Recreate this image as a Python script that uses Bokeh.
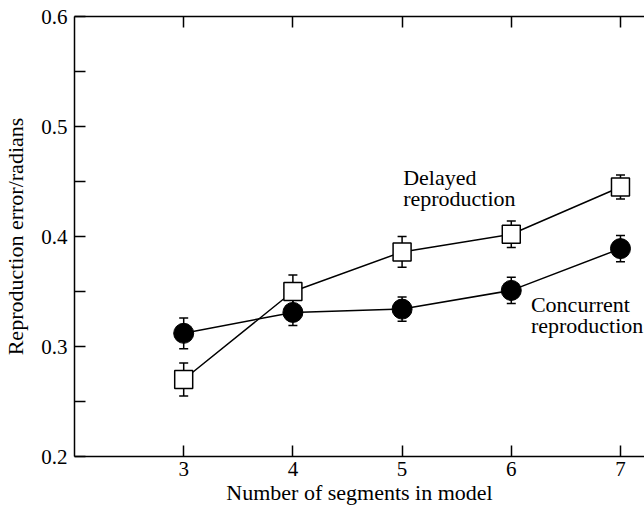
from bokeh.plotting import figure
from bokeh.models import (ColumnDataSource, Whisker, TeeHead, LinearAxis, FixedTicker,
                          Range1d, Label, CustomLabelingPolicy)
from bokeh.embed import file_html
from bokeh.resources import INLINE

# ---- data ----
segments = [3, 4, 5, 6, 7]
concurrent = [0.312, 0.331, 0.334, 0.351, 0.389]
concurrent_err = [0.014, 0.012, 0.011, 0.012, 0.012]
delayed = [0.270, 0.350, 0.386, 0.402, 0.445]
delayed_err = [0.015, 0.015, 0.014, 0.012, 0.011]

x_ticks = [3, 4, 5, 6, 7]
y_ticks = [0.2, 0.3, 0.4, 0.5, 0.6]
y_minor = [0.25, 0.35, 0.45, 0.55]

FONT = "Liberation Serif, DejaVu Serif, serif"
FS_TICK = "21px"
FS_TITLE = "22px"
FS_NOTE = "22px"

p = figure(width=644, height=508, output_backend="svg", toolbar_location=None,
           x_range=Range1d(2, 7.22), y_range=Range1d(0.2, 0.6),
           min_border_left=73, min_border_top=14, min_border_bottom=52, min_border_right=0)
p.grid.visible = False
p.outline_line_color = None
p.background_fill_color = "white"

c_src = ColumnDataSource(dict(x=segments, y=concurrent,
                              upper=[v + e for v, e in zip(concurrent, concurrent_err)],
                              lower=[v - e for v, e in zip(concurrent, concurrent_err)]))
d_src = ColumnDataSource(dict(x=segments, y=delayed,
                              upper=[v + e for v, e in zip(delayed, delayed_err)],
                              lower=[v - e for v, e in zip(delayed, delayed_err)]))

for src in (c_src, d_src):
    w = Whisker(base="x", upper="upper", lower="lower", source=src,
                upper_head=TeeHead(size=9, line_width=1.5, line_color="black"),
                lower_head=TeeHead(size=9, line_width=1.5, line_color="black"),
                line_width=1.5, line_color="black", level="underlay")
    p.add_layout(w)

p.line("x", "y", source=c_src, line_color="black", line_width=1.5)
p.line("x", "y", source=d_src, line_color="black", line_width=1.5)
p.scatter("x", "y", source=d_src, marker="square", size=18, fill_color="white",
          line_color="black", line_width=1.5)
p.scatter("x", "y", source=c_src, marker="circle", size=20, fill_color="black",
          line_color="black", line_width=1)

# axes
xa = p.xaxis[0]
xa.ticker = FixedTicker(ticks=x_ticks)
xa.axis_label = "Number of segments in model"
ya = p.yaxis[0]
ya.ticker = FixedTicker(ticks=y_ticks, minor_ticks=y_minor)
ya.axis_label = "Reproduction error/radians"

for ax in (xa, ya):
    ax.major_tick_in = 11
    ax.major_tick_out = 0
    ax.minor_tick_in = 11
    ax.minor_tick_out = 0
    ax.axis_line_width = 1.5
    ax.major_tick_line_width = 1.5
    ax.minor_tick_line_width = 1.5
    ax.major_label_text_font = FONT
    ax.major_label_text_font_size = FS_TICK
    ax.major_label_text_color = "black"
    ax.axis_label_text_font = FONT
    ax.axis_label_text_font_size = FS_TITLE
    ax.axis_label_text_font_style = "normal"
    ax.axis_label_text_color = "black"
    ax.axis_line_color = "black"
    ax.major_tick_line_color = "black"
    ax.minor_tick_line_color = "black"
xa.minor_tick_line_color = None
xa.major_label_standoff = 5
xa.axis_label_standoff = 1
ya.major_label_standoff = 7
ya.axis_label_standoff = 10

top = LinearAxis(ticker=FixedTicker(ticks=x_ticks), major_tick_in=11, major_tick_out=0,
                 minor_tick_line_color=None,
                 major_label_policy=CustomLabelingPolicy(code="return []"),
                 axis_line_width=1.5, major_tick_line_width=1.5,
                 axis_line_color="black", major_tick_line_color="black")
p.add_layout(top, "above")

for txt, x, y in [("Delayed", 5.01, 0.4535), ("reproduction", 5.01, 0.4345),
                  ("Concurrent", 6.18, 0.3385), ("reproduction", 6.18, 0.3190)]:
    p.add_layout(Label(x=x, y=y, text=txt, text_font=FONT, text_font_size=FS_NOTE,
                       text_color="black", text_baseline="alphabetic", text_align="left"))

open("out.html", "w").write(file_html(p, INLINE))
